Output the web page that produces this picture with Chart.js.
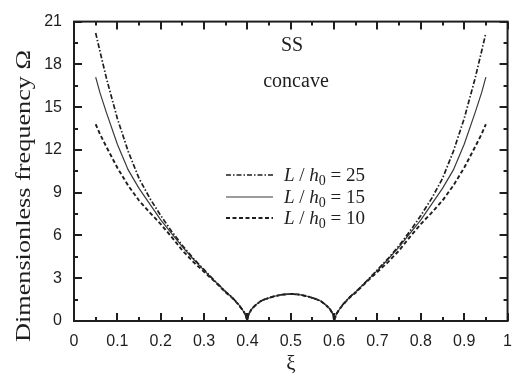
<!DOCTYPE html>
<html>
<head>
<meta charset="utf-8">
<script src="https://cdn.jsdelivr.net/npm/chart.js@4.4.1/dist/chart.umd.min.js"></script>
<style>
  html, body { margin: 0; padding: 0; background: #fff; }
  #wrap { width: 523px; height: 377px; }
</style>
</head>
<body>
<div id="wrap"><canvas id="chart"></canvas></div>
<script>
// xi positions (shared by all three curves)
const xi = [
  0.05, 0.06, 0.075, 0.1, 0.125, 0.15, 0.175, 0.2, 0.225, 0.25, 0.275, 0.3, 0.325, 0.35, 0.365, 0.38, 0.39, 0.395, 0.4,
  0.402, 0.405, 0.41, 0.42, 0.43, 0.44, 0.46, 0.48, 0.5, 0.52, 0.54, 0.56, 0.57, 0.58, 0.59, 0.595, 0.598,
  0.6, 0.605, 0.61, 0.62, 0.635, 0.65, 0.675, 0.7, 0.725, 0.75, 0.775, 0.8, 0.825, 0.85, 0.875, 0.9, 0.925, 0.94, 0.95
];

// dimensionless frequency, L/h0 = 25
const omega25 = [
  20.2, 18.9, 17.0, 14.2, 11.9, 10.0, 8.6, 7.4, 6.3, 5.3, 4.4, 3.6, 2.8, 2.05, 1.65, 1.15, 0.72, 0.48, 0,
  0.4, 0.6, 0.85, 1.15, 1.38, 1.52, 1.72, 1.85, 1.9, 1.85, 1.72, 1.52, 1.38, 1.15, 0.85, 0.6, 0.4,
  0, 0.48, 0.72, 1.15, 1.65, 2.05, 2.8, 3.6, 4.4, 5.3, 6.3, 7.4, 8.6, 10.0, 11.9, 14.2, 17.0, 18.9, 20.2
];

// L/h0 = 15
const omega15 = [
  17.1, 16.0, 14.6, 12.4, 10.6, 9.3, 8.2, 7.1, 6.15, 5.2, 4.35, 3.55, 2.8, 2.05, 1.65, 1.15, 0.72, 0.48, 0,
  0.4, 0.6, 0.85, 1.15, 1.38, 1.52, 1.72, 1.85, 1.9, 1.85, 1.72, 1.52, 1.38, 1.15, 0.85, 0.6, 0.4,
  0, 0.48, 0.72, 1.15, 1.65, 2.05, 2.8, 3.55, 4.35, 5.2, 6.15, 7.1, 8.2, 9.3, 10.6, 12.4, 14.6, 16.0, 17.1
];

// L/h0 = 10
const omega10 = [
  13.8, 13.1, 12.2, 10.75, 9.5, 8.45, 7.6, 6.8, 5.9, 4.95, 4.15, 3.45, 2.75, 2.0, 1.62, 1.13, 0.72, 0.48, 0,
  0.4, 0.6, 0.85, 1.15, 1.38, 1.52, 1.72, 1.85, 1.9, 1.85, 1.72, 1.52, 1.38, 1.15, 0.85, 0.6, 0.4,
  0, 0.48, 0.72, 1.13, 1.62, 2.0, 2.75, 3.45, 4.15, 4.95, 5.9, 6.8, 7.6, 8.45, 9.5, 10.75, 12.2, 13.1, 13.8
];

const ratioLabels = ['25', '15', '10'];

const INK = '#1e1e1e';
const SERIF = '"Liberation Serif", "Times New Roman", serif';
const SANS = '"Liberation Sans", Arial, sans-serif';

function points(ys) {
  return xi.map((x, i) => ({ x: x, y: ys[i] }));
}

// frame plus inward major/minor ticks on all four sides
const frameTicks = {
  id: 'frameTicks',
  afterDatasetsDraw(chart) {
    const { ctx, chartArea: a, scales: { x, y } } = chart;
    ctx.save();
    ctx.strokeStyle = INK;
    ctx.lineWidth = 2;
    ctx.beginPath();
    const xt = x.ticks.map(t => t.value);
    xt.forEach((v, i) => {
      const px = Math.round(x.getPixelForValue(v));
      ctx.moveTo(px, a.bottom); ctx.lineTo(px, a.bottom - 8);
      ctx.moveTo(px, a.top); ctx.lineTo(px, a.top + 8);
      if (i < xt.length - 1) {
        const pm = Math.round(x.getPixelForValue((v + xt[i + 1]) / 2));
        ctx.moveTo(pm, a.bottom); ctx.lineTo(pm, a.bottom - 4);
        ctx.moveTo(pm, a.top); ctx.lineTo(pm, a.top + 4);
      }
    });
    const yt = y.ticks.map(t => t.value);
    yt.forEach((v, i) => {
      const py = Math.round(y.getPixelForValue(v));
      ctx.moveTo(a.left, py); ctx.lineTo(a.left + 8, py);
      ctx.moveTo(a.right, py); ctx.lineTo(a.right - 8, py);
      if (i < yt.length - 1) {
        const pm = Math.round(y.getPixelForValue((v + yt[i + 1]) / 2));
        ctx.moveTo(a.left, pm); ctx.lineTo(a.left + 4, pm);
        ctx.moveTo(a.right, pm); ctx.lineTo(a.right - 4, pm);
      }
    });
    ctx.stroke();
    ctx.lineWidth = 2;
    ctx.strokeRect(a.left, a.top, a.right - a.left, a.bottom - a.top);
    ctx.restore();
  }
};

// titles, annotation and the in-plot legend
const annotations = {
  id: 'annotations',
  afterDraw(chart) {
    const { ctx } = chart;
    ctx.save();
    ctx.fillStyle = INK;

    // y title, stretched along its length like the original
    ctx.save();
    ctx.translate(25, 196);
    ctx.rotate(-Math.PI / 2);
    ctx.font = '20px ' + SERIF;
    const ytxt = 'Dimensionless frequency Ω';
    const w = ctx.measureText(ytxt).width;
    ctx.scale(292 / w, 1);
    ctx.textAlign = 'center';
    ctx.textBaseline = 'middle';
    ctx.fillText(ytxt, 0, 0);
    ctx.restore();

    // x title
    ctx.font = '21px ' + SERIF;
    ctx.textAlign = 'center';
    ctx.textBaseline = 'middle';
    ctx.fillText('ξ', 291, 364);

    // case annotation
    ctx.font = '20px ' + SERIF;
    ctx.fillText('SS', 292, 46);
    ctx.fillText('concave', 296, 82);

    // legend
    const rows = [175, 197, 218];
    chart.data.datasets.forEach((ds, i) => {
      const yy = rows[i];
      ctx.save();
      ctx.strokeStyle = ds.borderColor;
      ctx.lineWidth = ds.borderWidth;
      ctx.setLineDash(ds.borderDash || []);
      ctx.beginPath();
      ctx.moveTo(226, yy);
      ctx.lineTo(273, yy);
      ctx.stroke();
      ctx.restore();

      ctx.textAlign = 'left';
      ctx.textBaseline = 'alphabetic';
      let xx = 284;
      const base = yy + 6;
      const part = (txt, font, dy) => {
        ctx.font = font;
        ctx.fillText(txt, xx, base + (dy || 0));
        xx += ctx.measureText(txt).width;
      };
      part('L', 'italic 19px ' + SERIF);
      part(' / ', '19px ' + SERIF);
      part('h', 'italic 19px ' + SERIF);
      part('0', '14px ' + SERIF, 4);
      part(' = ' + ratioLabels[i], '19px ' + SERIF);
    });
    ctx.restore();
  }
};

new Chart(document.getElementById('chart'), {
  type: 'line',
  data: {
    datasets: [
      {
        label: 'L/h0 = ' + ratioLabels[0],
        data: points(omega25),
        borderColor: INK,
        borderWidth: 1.7,
        borderDash: [5, 2, 1.5, 2]
      },
      {
        label: 'L/h0 = ' + ratioLabels[1],
        data: points(omega15),
        borderColor: '#3a3a3a',
        borderWidth: 1.2
      },
      {
        label: 'L/h0 = ' + ratioLabels[2],
        data: points(omega10),
        borderColor: INK,
        borderWidth: 1.9,
        borderDash: [4, 2.5]
      }
    ]
  },
  options: {
    responsive: true,
    maintainAspectRatio: false,
    animation: false,
    devicePixelRatio: 1,
    layout: { padding: { left: 0, right: 13, top: 15, bottom: 0 } },
    elements: {
      point: { radius: 0 },
      line: { tension: 0, fill: false }
    },
    plugins: {
      legend: { display: false },
      tooltip: { enabled: false }
    },
    scales: {
      x: {
        type: 'linear',
        min: 0,
        max: 1,
        afterFit: s => { s.height = 56; },
        grid: { display: false, drawTicks: false },
        border: { display: false },
        ticks: {
          stepSize: 0.1,
          padding: 11,
          color: INK,
          font: { family: SANS, size: 16 },
          maxRotation: 0,
          callback: v => String(+v.toFixed(1))
        }
      },
      y: {
        type: 'linear',
        min: 0,
        max: 21,
        afterFit: s => { s.width = 74; },
        grid: { display: false, drawTicks: false },
        border: { display: false },
        ticks: {
          stepSize: 3,
          padding: 12,
          color: INK,
          font: { family: SANS, size: 16 }
        }
      }
    }
  },
  plugins: [frameTicks, annotations]
});
</script>
</body>
</html>
